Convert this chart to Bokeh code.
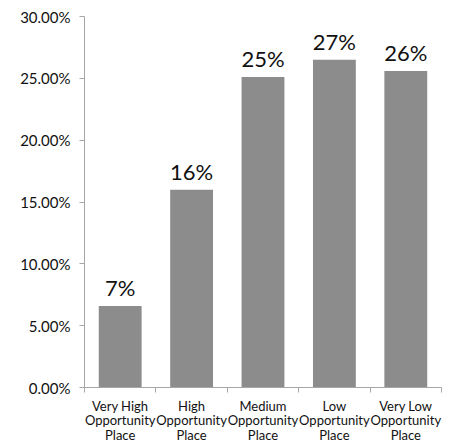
import math
from bokeh.plotting import figure
from bokeh.models import ColumnDataSource, FixedTicker, NumeralTickFormatter, Range1d, LinearAxis, LabelSet
from bokeh.core.properties import value
from bokeh.embed import file_html
from bokeh.resources import INLINE

categories = ["Very High\nOpportunity\nPlace", "High\nOpportunity\nPlace",
              "Medium\nOpportunity\nPlace", "Low\nOpportunity\nPlace",
              "Very Low\nOpportunity\nPlace"]
values = [0.066, 0.160, 0.251, 0.265, 0.256]
y_ticks = [0.0, 0.05, 0.10, 0.15, 0.20, 0.25, 0.30]

xs = [i + 0.5 for i in range(len(categories))]
labels = [f"{math.floor(v * 100 + 0.5)}%" for v in values]
src = ColumnDataSource(dict(x=xs, top=values, label=labels))

p = figure(width=450, height=445, output_backend="svg", toolbar_location=None,
           x_range=Range1d(0, len(categories)), y_range=Range1d(0, 0.30),
           min_border_left=84, min_border_right=9, min_border_top=16, min_border_bottom=58,
           x_axis_location=None, y_axis_location=None)
p.outline_line_color = None
p.xgrid.visible = False
p.ygrid.visible = False
p.background_fill_color = "white"
p.border_fill_color = "white"

p.vbar(x="x", top="top", bottom=0, width=0.6, source=src, fill_color="#8c8c8c", line_color=None)
p.add_layout(LabelSet(x="x", y="top", text="label", source=src, text_align="center",
                      text_baseline="alphabetic", y_offset=10, text_font_size=value("22px"),
                      text_color=value("#111111"), text_font=value("Lato")))

axis_color = "#a6a6a6"
yaxis = LinearAxis(ticker=FixedTicker(ticks=y_ticks), formatter=NumeralTickFormatter(format="0.00%"))
yaxis.axis_line_color = axis_color
yaxis.major_tick_line_color = axis_color
yaxis.major_tick_out = 5
yaxis.major_tick_in = 0
yaxis.minor_tick_line_color = None
yaxis.major_label_standoff = 9
yaxis.major_label_text_font = "Lato"
yaxis.major_label_text_font_size = "15px"
yaxis.major_label_text_color = "#111111"
p.add_layout(yaxis, "left")

xaxis = LinearAxis(ticker=FixedTicker(ticks=xs, minor_ticks=list(range(len(categories) + 1))))
xaxis.major_label_overrides = {x: c for x, c in zip(xs, categories)}
xaxis.axis_line_color = axis_color
xaxis.major_tick_line_color = None
xaxis.minor_tick_line_color = axis_color
xaxis.minor_tick_out = 5
xaxis.minor_tick_in = 0
xaxis.major_label_standoff = 4
xaxis.major_label_text_font = "Lato"
xaxis.major_label_text_font_size = "13px"
xaxis.major_label_text_line_height = 0.92
xaxis.major_label_text_color = "#111111"
xaxis.major_label_text_align = "center"
p.add_layout(xaxis, "below")

open("out.html", "w").write(file_html(p, INLINE))
